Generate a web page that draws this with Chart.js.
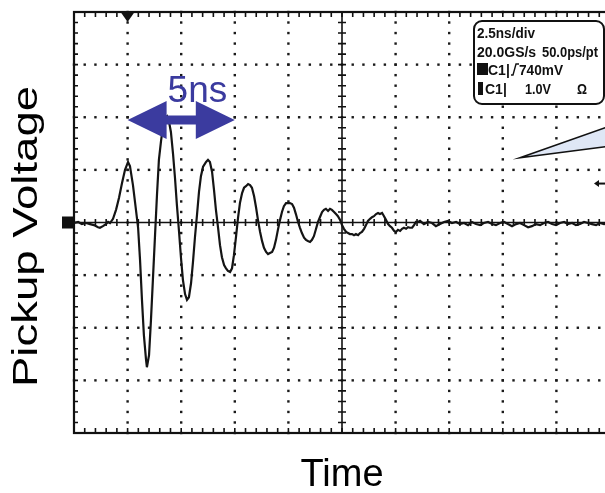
<!DOCTYPE html>
<html>
<head>
<meta charset="utf-8">
<script src="https://cdn.jsdelivr.net/npm/chart.js@4"></script>
<style>
  html, body { margin: 0; padding: 0; background: #fff; overflow: hidden; }
  canvas { display: block; }
</style>
</head>
<body>
<canvas id="scope" width="640" height="500"></canvas>
<script>
// pickup signal (2.5 ns/div, 1.0 V/div)

const ctx = document.getElementById('scope');

const time_ns = [
    0.00, 0.19, 0.37, 0.56, 0.75, 0.93, 1.12, 1.21, 1.35, 1.49,
    1.59, 1.68, 1.82, 1.96, 2.10, 2.24, 2.38, 2.52, 2.61, 2.75,
    2.89, 2.99, 3.08, 3.17, 3.26, 3.36, 3.40, 3.50, 3.59, 3.68,
    3.78, 3.87, 3.96, 4.06, 4.15, 4.24, 4.34, 4.43, 4.52, 4.62,
    4.71, 4.80, 4.90, 4.99, 5.08, 5.18, 5.27, 5.36, 5.46, 5.55,
    5.64, 5.74, 5.83, 5.92, 6.02, 6.16, 6.25, 6.34, 6.44, 6.53,
    6.62, 6.72, 6.81, 6.90, 7.00, 7.09, 7.18, 7.28, 7.37, 7.46,
    7.56, 7.65, 7.74, 7.84, 7.93, 8.02, 8.12, 8.21, 8.30, 8.40,
    8.49, 8.58, 8.68, 8.77, 8.86, 8.96, 9.05, 9.14, 9.24, 9.33,
    9.42, 9.51, 9.61, 9.70, 9.79, 9.89, 9.98, 10.07, 10.17, 10.26,
    10.35, 10.45, 10.54, 10.63, 10.73, 10.82, 10.91, 11.01, 11.10, 11.19,
    11.29, 11.38, 11.47, 11.57, 11.66, 11.75, 11.85, 11.94, 12.03, 12.13,
    12.22, 12.31, 12.41, 12.50, 12.59, 12.69, 12.78, 12.87, 12.97, 13.06,
    13.15, 13.25, 13.34, 13.43, 13.53, 13.62, 13.71, 13.81, 13.90, 13.99,
    14.09, 14.18, 14.27, 14.37, 14.46, 14.55, 14.65, 14.74, 14.83, 14.93,
    15.02, 15.11, 15.21, 15.30, 15.39, 15.49, 15.58, 15.67, 15.77, 15.86,
    15.95, 16.04, 16.14, 16.32, 16.51, 16.70, 16.88, 17.07, 17.26, 17.44,
    17.63, 17.82, 18.00, 18.19, 18.38, 18.56, 18.75, 18.94, 19.12, 19.31,
    19.50, 19.68, 19.87, 20.06, 20.24, 20.43, 20.62, 20.80, 20.99, 21.18,
    21.36, 21.55, 21.74, 21.92, 22.11, 22.30, 22.48, 22.67, 22.86, 23.04,
    23.23, 23.41, 23.60, 23.79, 23.97, 24.16, 24.35, 24.53, 24.72, 25.00
];

const volts = [
    -0.01, 0.01, -0.03, -0.01, -0.03, -0.05, -0.09, -0.10, -0.07, -0.03,
    0.01, -0.01, 0.07, 0.24, 0.47, 0.75, 1.00, 1.15, 1.07, 0.71,
    0.24, -0.10, -0.71, -1.47, -2.14, -2.61, -2.75, -2.52, -1.85, -1.09,
    -0.24, 0.52, 1.19, 1.55, 1.82, 1.98, 2.02, 1.92, 1.72, 1.30,
    0.85, 0.33, -0.18, -0.67, -1.09, -1.36, -1.47, -1.42, -1.15, -0.75,
    -0.29, 0.16, 0.58, 0.88, 1.06, 1.15, 1.19, 1.15, 0.96, 0.62,
    0.24, -0.10, -0.43, -0.66, -0.81, -0.87, -0.92, -0.94, -0.87, -0.62,
    -0.26, 0.09, 0.37, 0.56, 0.66, 0.69, 0.73, 0.71, 0.66, 0.50,
    0.29, 0.05, -0.18, -0.35, -0.48, -0.56, -0.60, -0.58, -0.56, -0.48,
    -0.33, -0.14, 0.05, 0.20, 0.31, 0.37, 0.37, 0.37, 0.35, 0.28,
    0.16, 0.01, -0.10, -0.20, -0.29, -0.33, -0.35, -0.37, -0.33, -0.26,
    -0.12, 0.01, 0.10, 0.20, 0.24, 0.26, 0.22, 0.26, 0.24, 0.20,
    0.16, 0.12, 0.05, -0.05, -0.12, -0.18, -0.20, -0.22, -0.22, -0.24,
    -0.22, -0.24, -0.20, -0.18, -0.12, -0.05, 0.03, 0.07, 0.10, 0.12,
    0.16, 0.18, 0.16, 0.18, 0.12, 0.05, -0.03, -0.07, -0.10, -0.16,
    -0.18, -0.14, -0.16, -0.12, -0.10, -0.12, -0.09, -0.10, -0.10, -0.05,
    0.01, 0.01, 0.03, -0.03, 0.01, -0.01, -0.07, -0.03, 0.01, 0.03,
    -0.01, 0.01, -0.03, -0.01, -0.05, 0.01, -0.03, -0.05, -0.01, 0.01,
    -0.03, -0.05, -0.01, 0.01, -0.03, -0.07, -0.03, -0.01, -0.05, -0.09,
    -0.07, -0.03, -0.05, -0.01, 0.01, -0.03, -0.05, -0.01, 0.01, -0.03,
    -0.01, -0.05, -0.03, 0.01, -0.01, -0.03, -0.05, -0.01, -0.03, -0.01
];

// screen settings
const nsPerDiv = 2.5;
const xDivs = 10;
const yMin = -4, yMax = 4;
const trigTime = 2.5;      // trigger position mark on top edge
const trigLevel = 0.74;    // C1 740mV
const groundLevel = 0;

// "5ns" marker and the callout tip
const spanFrom = 2.5, spanTo = 7.5, spanLevel = 1.95;
const spanLabel = '5ns';
const calloutTip = [20.8, 1.23];

const yTitle = 'Pickup Voltage';
const infoText = ['2.5ns/div', '20.0GS/s', '50.0ps/pt', 'C1|', '740mV', 'C1|', '1.0V', 'Ω'];

const FONT = '"Liberation Sans", Arial, Helvetica, sans-serif';

const trace = time_ns.map((t, i) => ({ x: t, y: volts[i] }));

// dotted graticule, centre cross and border ticks
const graticule = {
    id: 'graticule',
    beforeDatasetsDraw(chart) {
        const c = chart.ctx;
        const a = chart.chartArea;
        const sx = chart.scales.x, sy = chart.scales.y;
        const xs = [], ys = [];
        for (let i = 0; i <= xDivs * 5; i++) xs.push(sx.getPixelForValue(i * nsPerDiv / 5));
        for (let j = 0; j <= (yMax - yMin) * 5; j++) ys.push(sy.getPixelForValue(yMin + j / 5));
        const cx = xs[xDivs * 5 / 2], cy = ys[(yMax - yMin) * 5 / 2];

        c.save();
        c.fillStyle = '#1a1a1a';
        for (let i = 5; i < xs.length - 1; i += 5) {
            if (xs[i] === cx) continue;
            ys.forEach(py => c.fillRect(xs[i] - 1.2, py - 1.2, 2.4, 2.4));
        }
        for (let j = 5; j < ys.length - 1; j += 5) {
            if (ys[j] === cy) continue;
            xs.forEach(px => c.fillRect(px - 1.2, ys[j] - 1.2, 2.4, 2.4));
        }

        c.strokeStyle = '#111';
        c.lineWidth = 1.6;
        c.beginPath();
        c.moveTo(a.left, cy); c.lineTo(a.right, cy);
        c.moveTo(cx, a.top); c.lineTo(cx, a.bottom);
        xs.forEach(px => { c.moveTo(px, cy - 3.5); c.lineTo(px, cy + 3.5); });
        ys.forEach(py => { c.moveTo(cx - 4, py); c.lineTo(cx + 4, py); });
        c.stroke();

        c.beginPath();
        xs.forEach(px => {
            c.moveTo(px, a.top); c.lineTo(px, a.top + 5);
            c.moveTo(px, a.bottom); c.lineTo(px, a.bottom - 5);
        });
        ys.forEach(py => {
            c.moveTo(a.left, py); c.lineTo(a.left + 4, py);
            c.moveTo(a.right, py); c.lineTo(a.right - 4, py);
        });
        c.stroke();
        c.lineWidth = 2.2;
        c.strokeRect(a.left, a.top, a.right - a.left, a.bottom - a.top);
        c.restore();
    }
};

// blue span arrow, scope readout box, callout and the screen markers
const overlay = {
    id: 'overlay',
    afterDatasetsDraw(chart) {
        const c = chart.ctx;
        const a = chart.chartArea;
        const sx = chart.scales.x, sy = chart.scales.y;
        c.save();

        // span arrow
        const x1 = sx.getPixelForValue(spanFrom), x2 = sx.getPixelForValue(spanTo);
        const ay = sy.getPixelForValue(spanLevel);
        const head = 39, half = 19, shaft = 4.5;
        c.fillStyle = '#3b3b9f';
        c.beginPath();
        c.moveTo(x1, ay);
        c.lineTo(x1 + head, ay - half);
        c.lineTo(x1 + head, ay - shaft);
        c.lineTo(x2 - head, ay - shaft);
        c.lineTo(x2 - head, ay - half);
        c.lineTo(x2, ay);
        c.lineTo(x2 - head, ay + half);
        c.lineTo(x2 - head, ay + shaft);
        c.lineTo(x1 + head, ay + shaft);
        c.lineTo(x1 + head, ay + half);
        c.closePath();
        c.fill();
        c.font = '37px ' + FONT;
        c.textBaseline = 'alphabetic';
        c.fillText(spanLabel, x1 + 40, ay - 18);

        // callout wedge
        const tx = sx.getPixelForValue(calloutTip[0]), ty = sy.getPixelForValue(calloutTip[1]);
        const ex = a.right + 30;
        c.fillStyle = '#dfe7f6';
        c.strokeStyle = '#111';
        c.lineWidth = 1.6;
        c.beginPath();
        c.moveTo(ex, ty - 0.353 * (ex - tx));
        c.lineTo(tx, ty);
        c.lineTo(ex, ty - 0.129 * (ex - tx));
        c.fill();
        c.stroke();

        // trigger level mark on the right
        const ly = sy.getPixelForValue(trigLevel);
        c.fillStyle = '#111';
        c.beginPath();
        c.moveTo(594, ly); c.lineTo(599, ly - 3.5); c.lineTo(599, ly + 3.5); c.closePath();
        c.fill();
        c.fillRect(598, ly - 1, 12, 2);

        // trigger position mark on top
        const px = sx.getPixelForValue(trigTime);
        c.beginPath();
        c.moveTo(px - 7, a.top); c.lineTo(px + 7, a.top); c.lineTo(px, a.top + 10); c.closePath();
        c.fill();

        // ground mark on the left
        const gy = sy.getPixelForValue(groundLevel);
        c.fillRect(a.left - 12, gy - 6, 12, 12);

        // readout box
        c.fillStyle = '#fff';
        c.strokeStyle = '#111';
        c.lineWidth = 2;
        c.beginPath();
        c.roundRect(474, 21, 130, 83, 8);
        c.fill();
        c.stroke();
        c.fillStyle = '#111';
        c.font = 'bold 14px ' + FONT;
        c.fillText(infoText[0], 477, 38, 58);
        c.fillText(infoText[1], 477, 57, 61);
        c.fillText(infoText[2], 542, 57, 56);
        c.fillRect(477, 63, 11, 12);
        c.fillText(infoText[3], 488, 75, 22);
        c.lineWidth = 1.4;
        c.beginPath();
        c.moveTo(511, 75); c.lineTo(513, 75); c.lineTo(516, 64); c.lineTo(519, 64);
        c.stroke();
        c.fillText(infoText[4], 519, 75, 44);
        c.fillRect(478, 82, 5, 13);
        c.fillText(infoText[5], 485, 94, 24);
        c.fillText(infoText[6], 525, 94, 26);
        c.fillText(infoText[7], 577, 94, 10);

        // y axis title, a bit stretched along its length like the slide
        c.translate(27, (a.top + a.bottom) / 2 + 14);
        c.rotate(-Math.PI / 2);
        c.scale(1.3, 1);
        c.fillStyle = '#000';
        c.font = '35px ' + FONT;
        c.textAlign = 'center';
        c.textBaseline = 'middle';
        c.fillText(yTitle, 0, 0);

        c.restore();
    }
};

const graph = new Chart(ctx, {
    type: 'line',
    data: {
        datasets: [
            {
                label: 'C1',
                data: trace,
                borderColor: '#141414',
                borderWidth: 2.2,
                pointRadius: 0,
                fill: false,
                tension: 0
            }
        ]
    },
    options: {
        responsive: false,
        animation: false,
        devicePixelRatio: 1,
        layout: { padding: { left: 74, right: 30, top: 12, bottom: 5 } },
        plugins: {
            legend: { display: false },
            tooltip: { enabled: false }
        },
        scales: {
            x: {
                type: 'linear',
                min: 0,
                max: xDivs * nsPerDiv,
                grid: { display: false, drawTicks: false },
                border: { display: false },
                ticks: { display: false },
                title: {
                    display: true,
                    text: 'Time',
                    color: '#000',
                    font: { family: FONT, size: 38, lineHeight: 1 },
                    padding: { top: 24, bottom: 0 }
                }
            },
            y: {
                type: 'linear',
                display: false,
                min: yMin,
                max: yMax
            }
        }
    },
    plugins: [graticule, overlay]
});
</script>
</body>
</html>
